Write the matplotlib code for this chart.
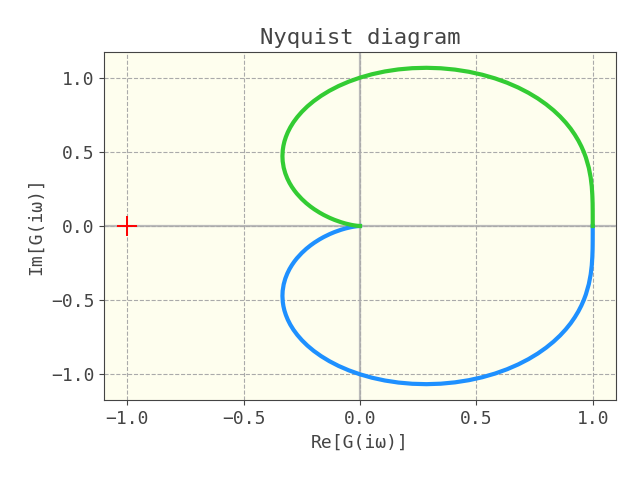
#!/usr/bin/env python3
"""Nyquist diagram recreation."""

import matplotlib

matplotlib.use("Agg")
import matplotlib.pyplot as plt

RE_POS = [
    1.0, 1.0, 0.9999, 0.9995, 0.9983, 0.9959, 0.9912, 0.9832, 0.9704,
    0.9617, 0.9511, 0.9383, 0.923, 0.9051, 0.884, 0.8596, 0.8316, 0.7997,
    0.7639, 0.7239, 0.6799, 0.6319, 0.5803, 0.5254, 0.4678, 0.4081, 0.3471,
    0.2856, 0.2246, 0.1647, 0.1069, 0.0518, 0.0, -0.0481, -0.0921, -0.1319,
    -0.1674, -0.1988, -0.2261, -0.2495, -0.2693, -0.2859, -0.2994, -0.3102,
    -0.3185, -0.3248, -0.3291, -0.3318, -0.3333, -0.3323, -0.3279, -0.321,
    -0.3124, -0.3028, -0.2925, -0.2819, -0.2713, -0.2504, -0.2308, -0.2126,
    -0.1961, -0.1741, -0.1553, -0.1296, -0.1096, -0.081, -0.0622, -0.0399,
    -0.0278, -0.0156, -0.01, 0.0,
]
IM_POS = [
    0.0, -0.0501, -0.101, -0.1534, -0.208, -0.2656, -0.3268, -0.3922, -0.4621,
    -0.4988, -0.5367, -0.5756, -0.6154, -0.656, -0.6971, -0.7384, -0.7796,
    -0.8203, -0.8598, -0.8976, -0.9332, -0.9658, -0.9948, -1.0196, -1.0395,
    -1.0541, -1.0632, -1.0663, -1.0637, -1.0554, -1.0417, -1.023, -1.0,
    -0.9732, -0.9434, -0.9111, -0.8771, -0.842, -0.8062, -0.7702, -0.7346,
    -0.6995, -0.6653, -0.6321, -0.6002, -0.5695, -0.5402, -0.5123, -0.4714,
    -0.437, -0.3934, -0.3547, -0.3204, -0.29, -0.2631, -0.2392, -0.218,
    -0.1823, -0.1538, -0.1309, -0.1123, -0.0905, -0.0739, -0.0543, -0.0411,
    -0.0252, -0.0166, -0.0083, -0.0048, -0.002, -0.001, 0.0,
]
CRITICAL_POINT = (-1.0, 0.0)
TICKS = [-1.0, -0.5, 0.0, 0.5, 1.0]

TEXT_COLOR = "#444444"
plt.rcParams["font.family"] = ["DejaVu Sans Mono", "DejaVu Sans"]
plt.rcParams["text.color"] = TEXT_COLOR
plt.rcParams["axes.labelcolor"] = TEXT_COLOR
plt.rcParams["xtick.color"] = TEXT_COLOR
plt.rcParams["ytick.color"] = TEXT_COLOR


def main():
    fig, ax = plt.subplots(figsize=(6.4, 4.8), dpi=100)
    fig.subplots_adjust(left=0.1625, right=0.9625, bottom=0.1667, top=0.8917)
    ax.set_facecolor("#fefeee")
    for spine in ax.spines.values():
        spine.set_color(TEXT_COLOR)

    ax.grid(True, linestyle="--", color="#aaaaaa", linewidth=0.8)
    ax.axhline(0, color="#bbbbbb", linewidth=1.6, zorder=1)
    ax.axvline(0, color="#bbbbbb", linewidth=1.6, zorder=1)

    ax.plot(RE_POS, IM_POS, color="#1e90ff", linewidth=3, zorder=3)
    ax.plot(RE_POS, [-v for v in IM_POS], color="#33cc33", linewidth=3, zorder=3)
    ax.plot(
        [CRITICAL_POINT[0]], [CRITICAL_POINT[1]], "+",
        color="red", markersize=15, markeredgewidth=1.4, zorder=4,
    )

    ax.set_title("Nyquist diagram", fontsize=16)
    ax.set_xlabel("Re[G(iω)]", fontsize=13)
    ax.set_ylabel("Im[G(iω)]", fontsize=13)
    ax.tick_params(labelsize=13)
    ax.set_xticks(TICKS)
    ax.set_yticks(TICKS)

    fig.savefig("out.png", dpi=100)
    plt.close(fig)


if __name__ == "__main__":
    main()
